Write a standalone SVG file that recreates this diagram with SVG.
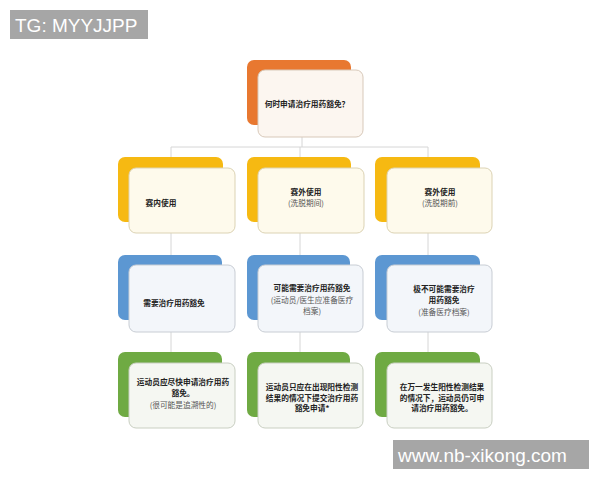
<svg xmlns="http://www.w3.org/2000/svg" width="600" height="480" viewBox="0 0 600 480">
<style>
.t{font-family:"Noto Sans CJK SC","Noto Sans",sans-serif;font-size:7.7px;fill:#222;text-anchor:middle}
.b{font-weight:bold}
.s{fill:#555}
.card{stroke-width:1}
.conn line{stroke:#d6d6d6;stroke-width:1}
.wm{font-family:"Liberation Sans",Arial,sans-serif;font-size:19px;fill:#fff}
</style>
<rect width="600" height="480" fill="#fff"/>
<g id="connectors" class="conn">
<line x1="302" y1="137" x2="302" y2="147"/>
<line x1="171" y1="147" x2="428" y2="147"/>
<line x1="171" y1="147" x2="171" y2="363"/>
<line x1="300" y1="147" x2="300" y2="363"/>
<line x1="428" y1="147" x2="428" y2="363"/>
</g>
<g id="n-top">
<rect x="247" y="60" width="104" height="65" rx="7" fill="#E87830"/>
<rect class="card" x="258" y="70" width="105" height="67" rx="7" fill="#FCF6F0" stroke="#D8C9BA"/>
<text class="t b" x="307" y="107">何时申请治疗用药豁免？</text>
</g>
<g id="n-in">
<rect x="118" y="157" width="105" height="65" rx="7" fill="#F6B912"/>
<rect class="card" x="129" y="168" width="106" height="65" rx="7" fill="#FEFAEC" stroke="#DCD3B4"/>
<text class="t b" x="161" y="206">赛内使用</text>
</g>
<g id="n-out1">
<rect x="247" y="157" width="104" height="65" rx="7" fill="#F6B912"/>
<rect class="card" x="258" y="168" width="106" height="65" rx="7" fill="#FEFAEC" stroke="#DCD3B4"/>
<text class="t b" x="306" y="195">赛外使用</text>
<text class="t s" x="306" y="206">(洗脱期间)</text>
</g>
<g id="n-out2">
<rect x="375" y="157" width="105" height="65" rx="7" fill="#F6B912"/>
<rect class="card" x="387" y="168" width="105" height="65" rx="7" fill="#FEFAEC" stroke="#DCD3B4"/>
<text class="t b" x="440" y="195">赛外使用</text>
<text class="t s" x="440" y="206">(洗脱期前)</text>
</g>
<g id="n-need">
<rect x="118" y="255" width="104" height="65" rx="7" fill="#5C97D2"/>
<rect class="card" x="129" y="265" width="106" height="67" rx="7" fill="#F3F6FA" stroke="#C8CDD4"/>
<text class="t b" x="174" y="306">需要治疗用药豁免</text>
</g>
<g id="n-maybe">
<rect x="247" y="255" width="103" height="65" rx="7" fill="#5C97D2"/>
<rect class="card" x="258" y="265" width="105" height="67" rx="7" fill="#F3F6FA" stroke="#C8CDD4"/>
<text class="t b" x="312" y="291">可能需要治疗用药豁免</text>
<text class="t s" x="312" y="303">(运动员/医生应准备医疗</text>
<text class="t s" x="312" y="314">档案)</text>
</g>
<g id="n-unlikely">
<rect x="375" y="255" width="105" height="65" rx="7" fill="#5C97D2"/>
<rect class="card" x="387" y="265" width="105" height="67" rx="7" fill="#F3F6FA" stroke="#C8CDD4"/>
<text class="t b" x="444" y="292">极不可能需要治疗</text>
<text class="t b" x="444" y="303">用药豁免</text>
<text class="t s" x="444" y="315">(准备医疗档案)</text>
</g>
<g id="n-asap">
<rect x="118" y="352" width="104" height="65" rx="7" fill="#6FAA43"/>
<rect class="card" x="129" y="363" width="106" height="65" rx="7" fill="#F5F7F2" stroke="#C9CFC2"/>
<text class="t b" x="183" y="385">运动员应尽快申请治疗用药</text>
<text class="t b" x="183" y="396">豁免。</text>
<text class="t s" x="183" y="408">(很可能是追溯性的)</text>
</g>
<g id="n-only">
<rect x="247" y="352" width="103" height="65" rx="7" fill="#6FAA43"/>
<rect class="card" x="258" y="363" width="105" height="65" rx="7" fill="#F5F7F2" stroke="#C9CFC2"/>
<text class="t b" x="312" y="390">运动员只应在出现阳性检测</text>
<text class="t b" x="312" y="400.5">结果的情况下提交治疗用药</text>
<text class="t b" x="312" y="411">豁免申请*</text>
</g>
<g id="n-still">
<rect x="375" y="352" width="105" height="65" rx="7" fill="#6FAA43"/>
<rect class="card" x="387" y="363" width="105" height="65" rx="7" fill="#F5F7F2" stroke="#C9CFC2"/>
<text class="t b" x="442" y="390">在万一发生阳性检测结果</text>
<text class="t b" x="442" y="400.5">的情况下，运动员仍可申</text>
<text class="t b" x="442" y="411">请治疗用药豁免。</text>
</g>
<g id="wm1">
<rect x="10" y="10" width="138" height="29" fill="#A6A6A6"/>
<text class="wm" x="15" y="31.5">TG: MYYJJPP</text>
</g>
<g id="wm2">
<rect x="393" y="440" width="196" height="29" fill="#A6A6A6"/>
<text class="wm" x="398" y="461.5">www.nb-xikong.com</text>
</g>
</svg>
